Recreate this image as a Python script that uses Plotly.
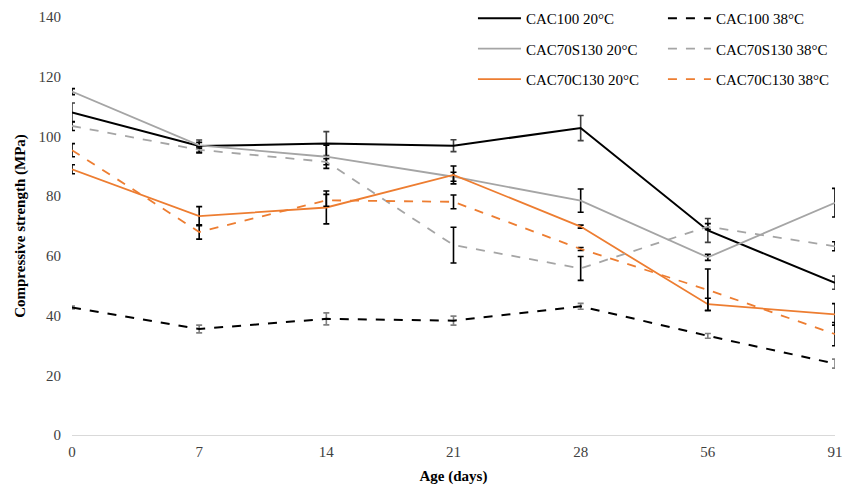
import plotly.graph_objects as go

ages = ["0", "7", "14", "21", "28", "56", "91"]

cac100_20 = [108.0, 96.8, 97.6, 96.9, 102.8, 68.5, 51.0]
cac100_20_err = [3.2, 2.0, 4.0, 2.0, 4.2, 4.0, 2.2]
cac100_38 = [42.7, 35.5, 38.9, 38.3, 43.1, 33.2, 23.9]
cac100_38_err = [0.5, 1.3, 2.0, 1.5, 1.0, 0.8, 1.5]

s130_20 = [115.0, 97.0, 93.2, 86.5, 78.5, 59.5, 77.8]
s130_20_err = [1.0, 1.0, 3.9, 1.5, 3.9, 1.0, 4.8]
s130_38 = [103.5, 95.5, 91.5, 63.6, 55.8, 69.8, 63.2]
s130_38_err = [1.5, 1.0, 1.0, 6.0, 4.0, 1.0, 1.5]

c130_20 = [89.0, 73.3, 76.2, 87.1, 69.8, 43.8, 40.4]
c130_20_err = [1.5, 3.2, 5.5, 3.0, 0.5, 2.0, 3.6]
c130_38 = [95.4, 68.0, 78.6, 78.1, 62.3, 48.6, 33.8]
c130_38_err = [2.2, 2.4, 2.0, 2.3, 0.5, 7.0, 3.9]

BLACK = "#000000"
GREY = "#a5a5a5"
ORANGE = "#ed7d31"
FONT = "Liberation Serif"

series = [
    # name, values, errors, colour, dash, width, error colour, legend
    ("CAC100 20°C", cac100_20, cac100_20_err, BLACK, "solid", 2, "#404040", "legend"),
    ("CAC70S130 20°C", s130_20, s130_20_err, GREY, "solid", 1.8, BLACK, "legend"),
    ("CAC70C130 20°C", c130_20, c130_20_err, ORANGE, "solid", 1.8, BLACK, "legend"),
    ("CAC100 38°C", cac100_38, cac100_38_err, BLACK, "dash", 2, "#808080", "legend2"),
    ("CAC70S130 38°C", s130_38, s130_38_err, GREY, "dash", 1.8, BLACK, "legend2"),
    ("CAC70C130 38°C", c130_38, c130_38_err, ORANGE, "dash", 1.8, BLACK, "legend2"),
]

fig = go.Figure()
for name, vals, errs, col, dash, w, ecol, leg in series:
    fig.add_trace(go.Scatter(
        x=ages, y=vals, name=name, mode="lines",
        line=dict(color=col, width=w, dash=dash),
        error_y=dict(type="data", array=errs, visible=True,
                     color=ecol, thickness=1.6, width=3),
        legend=leg, legendgroup=name,
    ))

leg_common = dict(y=1.036, xanchor="left", yanchor="top",
                  bgcolor="rgba(0,0,0,0)", tracegroupgap=8,
                  font=dict(size=15, color="#000000"), itemwidth=43)

fig.update_layout(
    width=843, height=487,
    margin=dict(l=72, r=8, t=17, b=52, autoexpand=False),
    plot_bgcolor="white", paper_bgcolor="white",
    font=dict(family=FONT, size=15, color="#404040"),
    xaxis=dict(
        type="category", range=[0, 6], automargin=False,
        showgrid=False, showline=True, linecolor="#d9d9d9", linewidth=1,
        ticks="", tickfont=dict(size=15, color="#404040"), ticklabelstandoff=3,
        title=dict(text="<b>Age (days)</b>", font=dict(size=15, color="#000000"),
                   standoff=11),
        zeroline=False,
    ),
    yaxis=dict(
        range=[0, 140], dtick=20, showgrid=False, showline=False, automargin=False,
        zeroline=False, ticks="", tickfont=dict(size=15, color="#404040"),
        ticklabelstandoff=10,
        title=dict(text="<b>Compressive strength (MPa)</b>",
                   font=dict(size=15, color="#000000"), standoff=9),
    ),
    legend=dict(x=0.5255, **leg_common),
    legend2=dict(x=0.7745, **leg_common),
)

# drop the default 8px body margin of the page so the figure sits at 0,0
fig.write_html("out.html", config={"displayModeBar": False},
               post_script="document.body.style.margin='0';")
